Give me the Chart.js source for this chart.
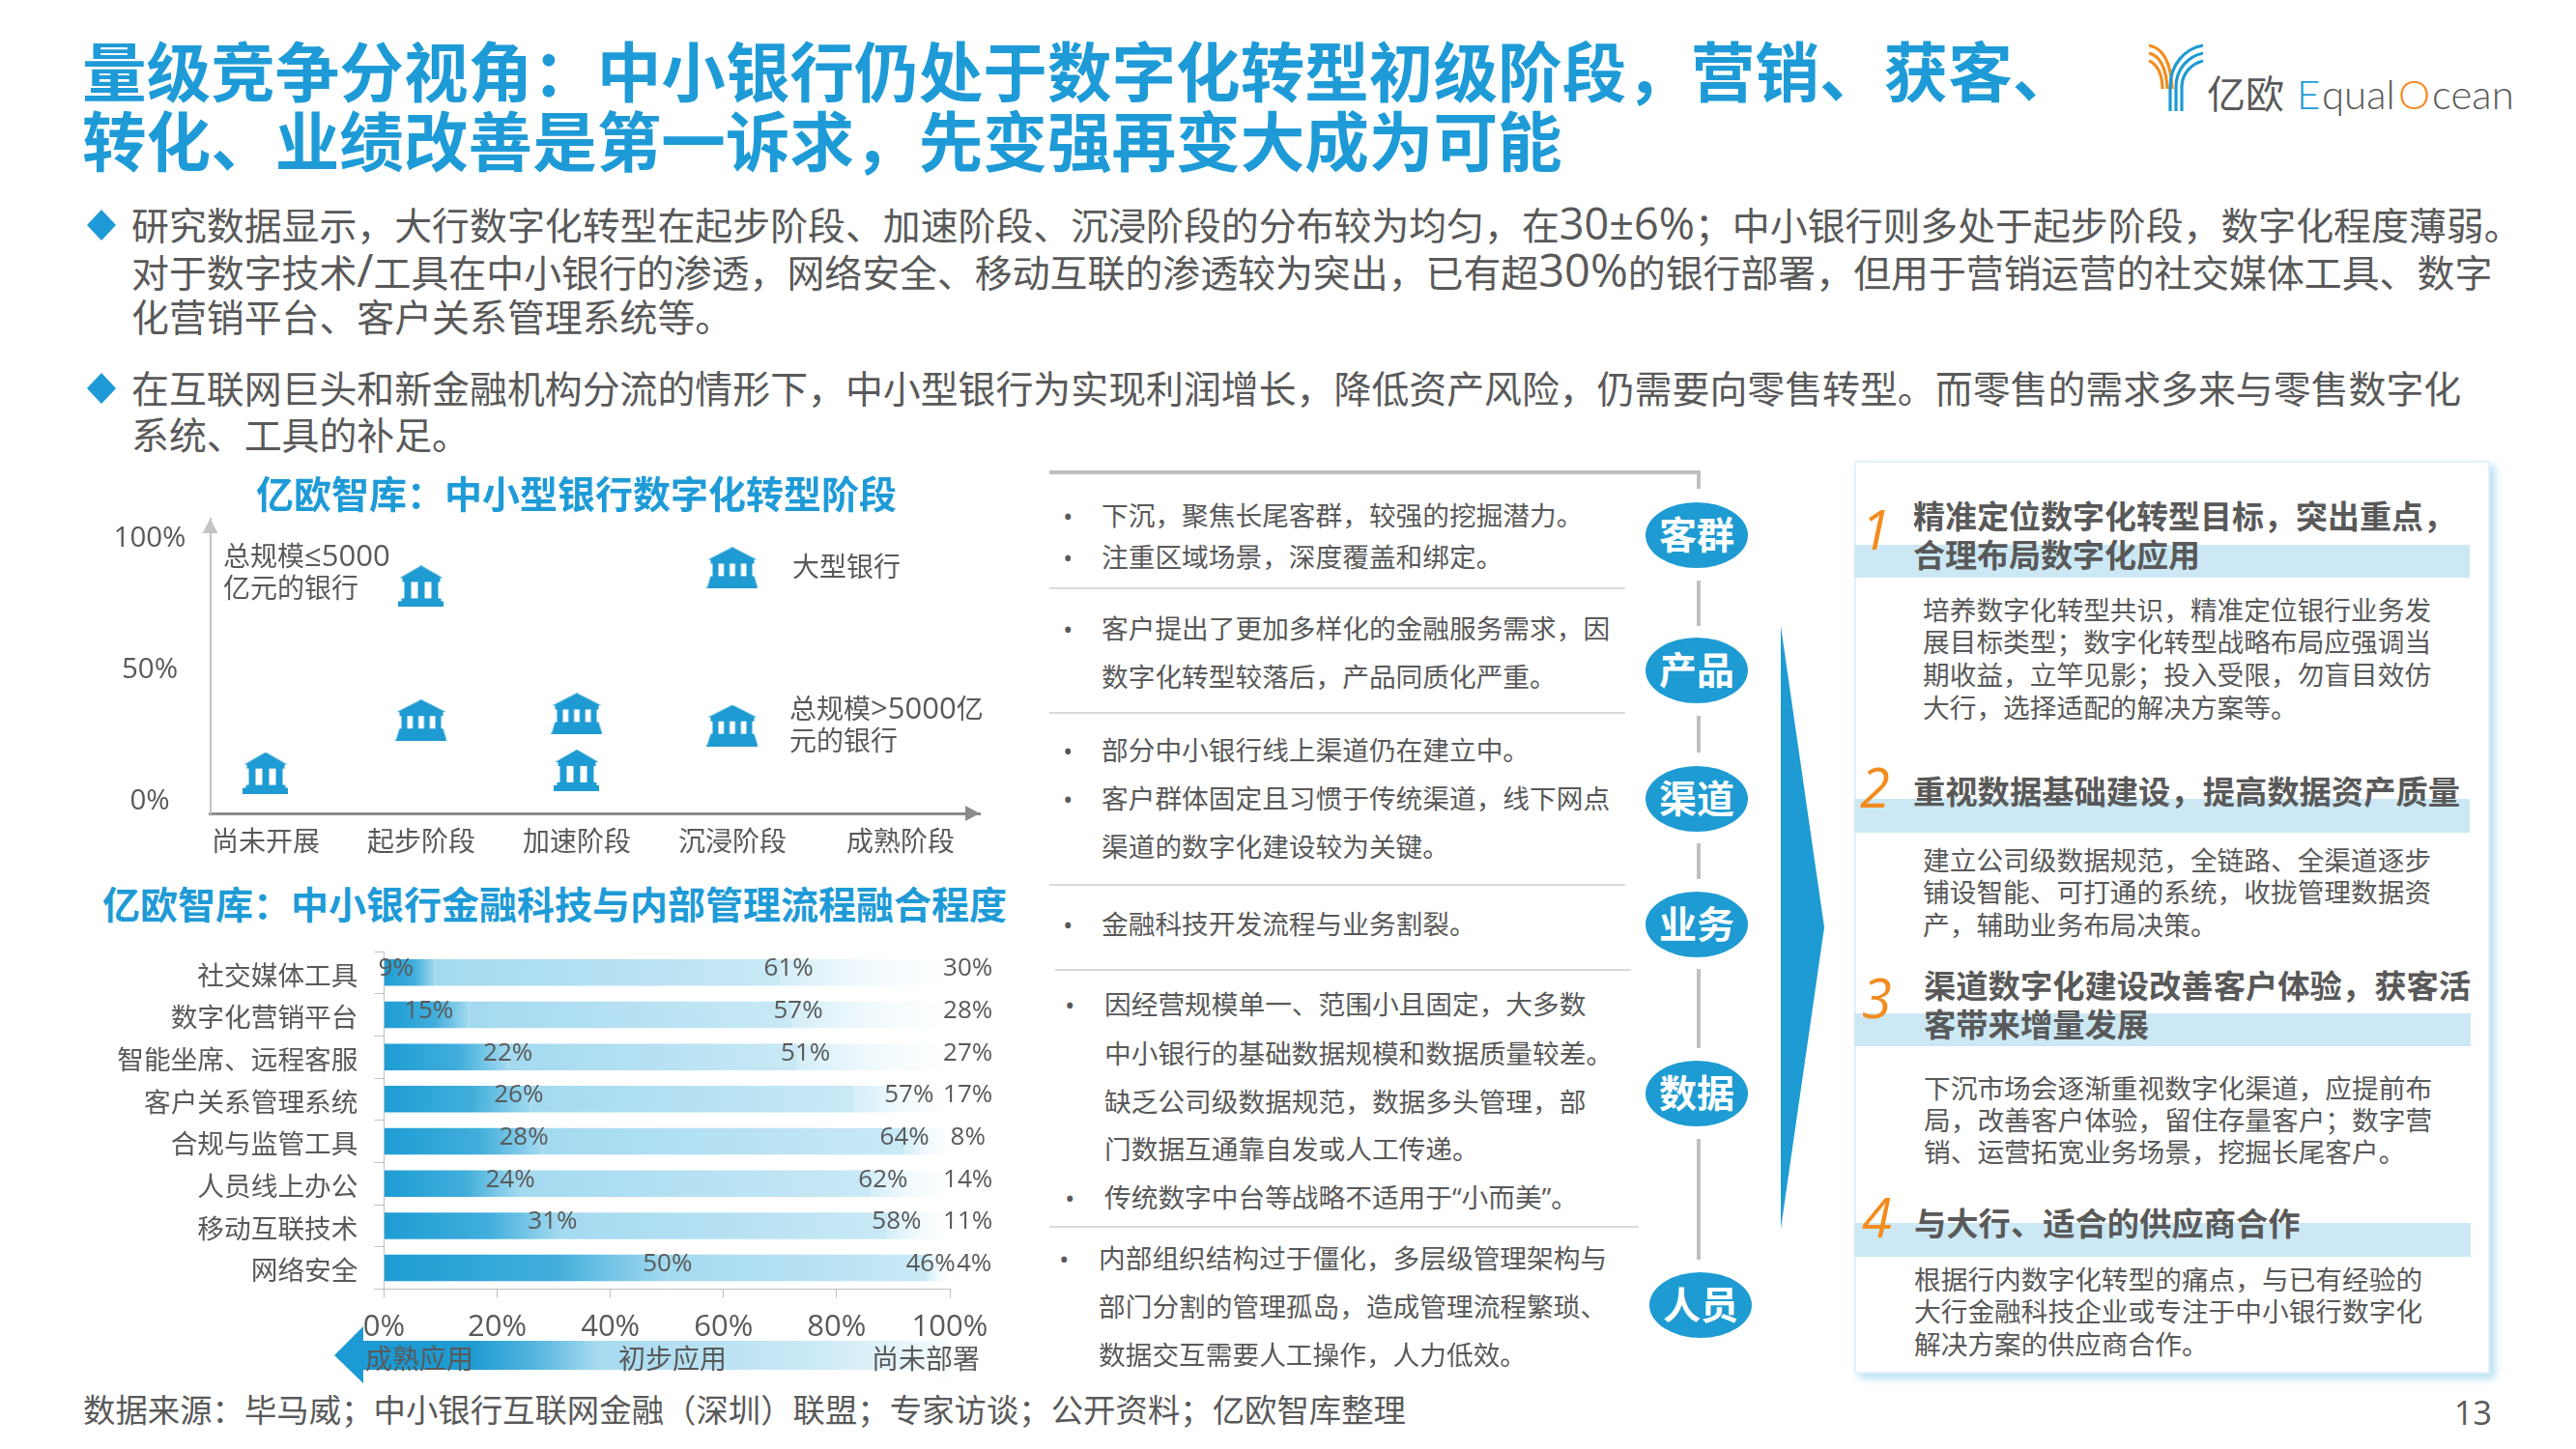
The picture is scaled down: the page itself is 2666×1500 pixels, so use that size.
<!DOCTYPE html>
<html lang="zh">
<head>
<meta charset="utf-8">
<title>量级竞争分视角</title>
<script src="https://cdn.jsdelivr.net/npm/chart.js@4"></script>
<style>
  html, body { margin: 0; padding: 0; background: #fff; }
  #slide { position: relative; width: 2666px; height: 1500px; overflow: hidden; background: #fff;
           font-family: "Open Sans", "Noto Sans CJK SC", sans-serif; color: #595959; }
  .t { position: absolute; white-space: pre; line-height: 1; transform: translateY(-50%); }
  .b { position: absolute; }
  canvas { position: absolute; }
</style>
</head>
<body>
<div id="slide">
  <svg class="b" style="left:0;top:0" width="2666" height="1500">
    <!-- logo -->
    <g fill="none" stroke-width="3.2">
      <path d="M2224 47 C2240 50 2247 66 2248 92" stroke="#f28c1e"/>
      <path d="M2224 55 C2236 58 2242 70 2243 92" stroke="#f28c1e"/>
      <path d="M2224 63 C2232 66 2238 76 2238 92" stroke="#f28c1e"/>
      <path d="M2246 115 V90 C2246 66 2262 50 2280 47" stroke="#1e9bd2"/>
      <path d="M2252 115 V90 C2252 70 2266 58 2280 55" stroke="#1e9bd2"/>
      <path d="M2258 115 V90 C2258 76 2268 66 2280 63" stroke="#1e9bd2"/>
    </g>
    <!-- bullets -->
    <polygon points="105,217 120,233 105,249 90,233" fill="#1e9bd7"/>
    <polygon points="105,386 120,402 105,418 90,402" fill="#1e9bd7"/>
    <!-- connector lines -->
    <g stroke="#bfbfbf" stroke-width="4" fill="none">
      <path d="M1086 489 H1758 V506"/>
      <path d="M1758 601 V648"/><path d="M1758 741 V779"/><path d="M1758 873 V910"/>
      <path d="M1758 1003 V1085"/><path d="M1758 1179 V1304"/>
    </g>
    <g stroke="#d9d9d9" stroke-width="2">
      <path d="M1086 609 H1682"/><path d="M1086 738 H1682"/><path d="M1086 916 H1682"/>
      <path d="M1092 1004 H1688"/><path d="M1086 1270 H1696"/>
    </g>
    <polygon points="1843,648 1888,960 1843,1272" fill="#1e9bd2"/>
    <!-- arrow under the bars -->
    <defs>
      <linearGradient id="arrowFill" x1="346" x2="992" y1="0" y2="0" gradientUnits="userSpaceOnUse">
        <stop offset="0" stop-color="#1b9ad4"/>
        <stop offset="0.22" stop-color="#1e9bd2"/>
        <stop offset="0.33" stop-color="#5ab8e0"/>
        <stop offset="0.42" stop-color="#a6dbf0"/>
        <stop offset="0.75" stop-color="#c8e8f5"/>
        <stop offset="0.95" stop-color="#eef8fc"/>
        <stop offset="1" stop-color="#ffffff"/>
      </linearGradient>
    </defs>
    <polygon points="346,1403 376,1373 376,1388 976,1388 976,1380 992,1403 976,1432 976,1418 376,1418 376,1432" fill="url(#arrowFill)"/>
  </svg>
  <div class="b" style="left:1919px;top:477px;width:658px;height:945px;box-sizing:border-box;border:2px solid #e3f2fa;box-shadow:5px 5px 8px rgba(30,155,215,.32)"></div>
  <div class="b" style="left:1919px;top:564px;width:637px;height:34px;background:#cce8f4"></div>
  <div class="b" style="left:1919px;top:827px;width:637px;height:35px;background:#cce8f4"></div>
  <div class="b" style="left:1919px;top:1049px;width:638px;height:34px;background:#cce8f4"></div>
  <div class="b" style="left:1919px;top:1266px;width:638px;height:35px;background:#cce8f4"></div>
  <canvas id="stageChart" width="930" height="370" style="left:100px;top:530px"></canvas>
  <canvas id="fusionChart" width="960" height="420" style="left:90px;top:975px"></canvas>
</div>
<script>
const BLUE = "#1e9bd7";
const GREY = "#595959";
const FONT = '"Open Sans", "Noto Sans CJK SC", sans-serif';

// x, y centre, size, text, options
const texts = [
  [85, 75, 66.6, "量级竞争分视角：中小银行仍处于数字化转型初级阶段，营销、获客、", { color: BLUE, bold: 1 }],
  [85, 147, 66.6, "转化、业绩改善是第一诉求，先变强再变大成为可能", { color: BLUE, bold: 1 }],
  [2284, 97, 40, "亿欧", { color: GREY }],
  [2377, 97, 42, "E", { color: BLUE, font: "Lato", light: 1 }],
  [2403, 97, 42, "qual", { color: GREY, font: "Lato", light: 1 }],
  [2482, 97, 42, "O", { color: "#f28c1e", font: "Lato", light: 1 }],
  [2517, 97, 42, "cean", { color: GREY, font: "Lato", light: 1 }],
  [136, 233, 38.9, "研究数据显示，大行数字化转型在起步阶段、加速阶段、沉浸阶段的分布较为均匀，在30±6%；中小银行则多处于起步阶段，数字化程度薄弱。", { latin: 45 }],
  [136, 282, 38.9, "对于数字技术/工具在中小银行的渗透，网络安全、移动互联的渗透较为突出，已有超30%的银行部署，但用于营销运营的社交媒体工具、数字", { latin: 47 }],
  [136, 328, 38.9, "化营销平台、客户关系管理系统等。"],
  [136, 402, 38.9, "在互联网巨头和新金融机构分流的情形下，中小型银行为实现利润增长，降低资产风险，仍需要向零售转型。而零售的需求多来与零售数字化"],
  [136, 450, 38.9, "系统、工具的补足。"],
  [265, 510, 39, "亿欧智库：中小型银行数字化转型阶段", { color: BLUE, bold: 1 }],
  [106, 935, 39, "亿欧智库：中小银行金融科技与内部管理流程融合程度", { color: BLUE, bold: 1 }],
  [231, 575, 28, "总规模≤5000", { latin: 31 }],
  [231, 608, 28, "亿元的银行"],
  [820, 586, 28, "大型银行"],
  [817, 733, 28, "总规模>5000亿", { latin: 31 }],
  [817, 766, 28, "元的银行"],
  [378, 1406, 28, "成熟应用"],
  [640, 1406, 28, "初步应用"],
  [902, 1406, 28, "尚未部署"],
  [86, 1460, 33.4, "数据来源：毕马威；中小银行互联网金融（深圳）联盟；专家访谈；公开资料；亿欧智库整理"],
  [2540, 1462, 34, "13"],
  [1140, 534, 27.7, "下沉，聚焦长尾客群，较强的挖掘潜力。"],
  [1140, 577, 27.7, "注重区域场景，深度覆盖和绑定。"],
  [1140, 651, 27.7, "客户提出了更加多样化的金融服务需求，因"],
  [1140, 701, 27.7, "数字化转型较落后，产品同质化严重。"],
  [1140, 777, 27.7, "部分中小银行线上渠道仍在建立中。"],
  [1140, 827, 27.7, "客户群体固定且习惯于传统渠道，线下网点"],
  [1140, 877, 27.7, "渠道的数字化建设较为关键。"],
  [1140, 957, 27.7, "金融科技开发流程与业务割裂。"],
  [1143, 1040, 27.7, "因经营规模单一、范围小且固定，大多数"],
  [1143, 1091, 27.7, "中小银行的基础数据规模和数据质量较差。"],
  [1143, 1141, 27.7, "缺乏公司级数据规范，数据多头管理，部"],
  [1143, 1190, 27.7, "门数据互通靠自发或人工传递。"],
  [1143, 1240, 27.7, "传统数字中台等战略不适用于“小而美”。"],
  [1137, 1303, 27.7, "内部组织结构过于僵化，多层级管理架构与"],
  [1137, 1353, 27.7, "部门分割的管理孤岛，造成管理流程繁琐、"],
  [1137, 1403, 27.7, "数据交互需要人工操作，人力低效。"],
  [1980, 534, 33, "精准定位数字化转型目标，突出重点，", { bold: 1 }],
  [1980, 574, 33, "合理布局数字化应用", { bold: 1 }],
  [1980, 820, 33.3, "重视数据基础建设，提高数据资产质量", { bold: 1 }],
  [1991, 1021, 33.3, "渠道数字化建设改善客户体验，获客活", { bold: 1 }],
  [1991, 1061, 33.3, "客带来增量发展", { bold: 1 }],
  [1981, 1267, 33.3, "与大行、适合的供应商合作", { bold: 1 }],
  [1990, 632, 27.7, "培养数字化转型共识，精准定位银行业务发"],
  [1990, 665, 27.7, "展目标类型；数字化转型战略布局应强调当"],
  [1990, 699, 27.7, "期收益，立竿见影；投入受限，勿盲目效仿"],
  [1990, 733, 27.7, "大行，选择适配的解决方案等。"],
  [1990, 891, 27.7, "建立公司级数据规范，全链路、全渠道逐步"],
  [1990, 924, 27.7, "铺设智能、可打通的系统，收拢管理数据资"],
  [1990, 958, 27.7, "产，辅助业务布局决策。"],
  [1991, 1127, 27.7, "下沉市场会逐渐重视数字化渠道，应提前布"],
  [1991, 1160, 27.7, "局，改善客户体验，留住存量客户；数字营"],
  [1991, 1193, 27.7, "销、运营拓宽业务场景，挖掘长尾客户。"],
  [1981, 1325, 27.7, "根据行内数字化转型的痛点，与已有经验的"],
  [1981, 1358, 27.7, "大行金融科技企业或专注于中小银行数字化"],
  [1981, 1392, 27.7, "解决方案的供应商合作。"],
  [1926, 547, 56, "1", { color: "#f28c1e", italic: 1 }],
  [1925, 814, 56, "2", { color: "#f28c1e", italic: 1 }],
  [1927, 1032, 56, "3", { color: "#f28c1e", italic: 1 }],
  [1927, 1259, 56, "4", { color: "#f28c1e", italic: 1 }],
];
[[1107, 534], [1107, 577], [1107, 651], [1107, 777], [1107, 827], [1107, 957],
 [1109, 1040], [1109, 1240], [1103, 1303]].forEach(p => texts.push([p[0] - 7, p[1], 28, "•"]));

const slide = document.getElementById("slide");
texts.forEach(([x, y, size, str, o = {}]) => {
  const d = document.createElement("div");
  d.className = "t";
  // latin runs are set larger than the chinese around them
  if (o.latin) d.innerHTML = str.replace(/[0-9±%\/≤>]+/g, (m) => `<span style="font-size:${o.latin}px;line-height:0">${m}</span>`);
  else d.textContent = str;
  d.style.left = x + "px";
  d.style.top = y + "px";
  d.style.fontSize = size + "px";
  d.style.color = o.color || GREY;
  if (o.bold) d.style.fontWeight = 700;
  if (o.light) d.style.fontWeight = 300;
  if (o.italic) d.style.fontStyle = "italic";
  if (o.font) d.style.fontFamily = o.font;
  slide.appendChild(d);
});

// round tags on the connector
[["客群", 1756, 554], ["产品", 1756, 694], ["渠道", 1756, 827], ["业务", 1756, 957], ["数据", 1756, 1132], ["人员", 1760, 1351]].forEach(([s, x, y]) => {
  const d = document.createElement("div");
  d.className = "b";
  d.textContent = s;
  d.style.cssText = `left:${x - 53}px;top:${y - 34}px;width:106px;height:68px;border-radius:50%;background:#1e9bd2;color:#fff;font-weight:700;font-size:39px;line-height:66px;text-align:center`;
  slide.appendChild(d);
});

// bank icons used as point styles
function bankIcon(w, h, wideBase) {
  const c = document.createElement("canvas");
  c.width = w; c.height = h;
  const g = c.getContext("2d");
  g.fillStyle = "#1e9bd2";
  const roof = Math.round(h * 0.3);
  g.beginPath();
  g.moveTo(w / 2, 0); g.lineTo(w - 1, roof); g.lineTo(1, roof); g.closePath(); g.fill();
  g.fillRect(4, roof, w - 8, 4);
  const colTop = roof + 4, colBot = h - (wideBase ? 13 : 8);
  const n = wideBase ? 4 : 3, cw = wideBase ? 6 : 7;
  const left = 6, span = w - 12 - cw;
  for (let i = 0; i < n; i++) g.fillRect(left + span * i / (n - 1), colTop, cw, colBot - colTop);
  if (wideBase) {
    g.beginPath();
    g.moveTo(4, colBot); g.lineTo(w - 4, colBot); g.lineTo(w, h); g.lineTo(0, h); g.closePath(); g.fill();
  } else {
    g.fillRect(3, colBot - 1, w - 6, 3);
    g.fillRect(0, h - 6, w, 6);
  }
  return c;
}
const smallBank = bankIcon(47, 43, false);
const bigBank = bankIcon(53, 43, true);

const stages = ["尚未开展", "起步阶段", "加速阶段", "沉浸阶段", "成熟阶段"];
const stageTicks = [0, 1, 2, 3, 4.08];

const axisArrows = {
  id: "axisArrows",
  afterDraw(chart) {
    const { ctx, chartArea: a } = chart;
    ctx.save();
    ctx.fillStyle = "#c4c4c4";
    ctx.beginPath();
    ctx.moveTo(a.left, a.top); ctx.lineTo(a.left + 8, a.top + 15); ctx.lineTo(a.left - 8, a.top + 15);
    ctx.closePath(); ctx.fill();
    ctx.fillStyle = "#8c8c8c";
    ctx.beginPath();
    ctx.moveTo(a.right, a.bottom); ctx.lineTo(a.right - 15, a.bottom - 8); ctx.lineTo(a.right - 15, a.bottom + 8);
    ctx.closePath(); ctx.fill();
    ctx.restore();
  },
};

// fixed axis box, no extra room for the tick labels
function noPadding(axis) {
  axis.paddingTop = axis.paddingBottom = axis.paddingLeft = axis.paddingRight = 0;
}

new Chart(document.getElementById("stageChart"), {
  type: "scatter",
  plugins: [axisArrows],
  data: {
    datasets: [
      { label: "总规模≤5000亿元的银行", data: [{ x: 0, y: 11 }, { x: 1, y: 82 }, { x: 2, y: 12 }], pointStyle: smallBank },
      { label: "总规模>5000亿元的银行", data: [{ x: 1, y: 31 }, { x: 2, y: 33.5 }, { x: 3, y: 29 }], pointStyle: bigBank },
      { label: "大型银行", data: [{ x: 3, y: 89 }], pointStyle: bigBank },
    ],
  },
  options: {
    responsive: false,
    animation: false,
    devicePixelRatio: 1,
    layout: { padding: { top: 7, right: 16, left: 0, bottom: 0 } },
    plugins: { legend: { display: false }, title: { display: false }, tooltip: { enabled: false } },
    scales: {
      x: {
        type: "linear",
        min: -0.357,
        max: 4.59,
        afterBuildTicks: (axis) => { axis.ticks = stageTicks.map((v) => ({ value: v })); },
        afterFit: (axis) => { axis.height = 58; noPadding(axis); },
        grid: { display: false },
        border: { color: "#8c8c8c", width: 3 },
        ticks: {
          autoSkip: false,
          maxRotation: 0,
          padding: 6,
          color: GREY,
          font: { family: FONT, size: 28 },
          callback: (v) => stages[stageTicks.indexOf(v)],
        },
      },
      y: {
        type: "linear",
        min: -4.4,
        max: 107.7,
        afterBuildTicks: (axis) => { axis.ticks = [0, 50, 100].map((v) => ({ value: v })); },
        afterFit: (axis) => { axis.width = 117.5; noPadding(axis); },
        grid: { display: false },
        border: { color: "#c4c4c4", width: 2 },
        ticks: {
          padding: 17,
          crossAlign: "center",
          color: GREY,
          font: { family: FONT, size: 29.5 },
          callback: (v) => v + "%",
        },
      },
    },
  },
});

const tools = ["社交媒体工具", "数字化营销平台", "智能坐席、远程客服", "客户关系管理系统", "合规与监管工具", "人员线上办公", "移动互联技术", "网络安全"];
const matureUse = [9, 15, 22, 26, 28, 24, 31, 50];
const earlyUse = [61, 57, 51, 57, 64, 62, 58, 46];
const notDeployed = [30, 28, 27, 17, 8, 14, 11, 4];
// where each percentage sits on the x axis (hand placed in the original)
const labelAt = [
  [2.1, 7.9, 21.9, 23.8, 24.7, 22.3, 29.8, 50.1],
  [71.5, 73.2, 74.5, 92.8, 92, 88.2, 90.6, 96.6],
  [103.2, 103.2, 103.2, 103.2, 103.2, 103.2, 103.2, 104.3],
];
const stops = [
  ["#1d9dd4", "#41aedb", "#a3daf0"],
  ["#a3daf0", "#b6e1f3", "#c9e9f6"],
  ["#d4eef8", "#f2fafd", "#ffffff"],
];

function segFill(seg) {
  return (c) => {
    const chart = c.chart, xs = chart.scales.x;
    const i = c.dataIndex;
    if (!xs || i === undefined) return stops[seg][0];
    const from = seg === 0 ? 0 : seg === 1 ? matureUse[i] : matureUse[i] + earlyUse[i];
    const to = from + c.dataset.data[i];
    const x0 = xs.getPixelForValue(from), x1 = xs.getPixelForValue(to);
    if (!isFinite(x0) || !isFinite(x1)) return stops[seg][0];
    const g = chart.ctx.createLinearGradient(x0, 0, x1, 0);
    g.addColorStop(0, stops[seg][0]);
    g.addColorStop(seg === 0 ? 0.6 : 0.5, stops[seg][1]);
    g.addColorStop(1, stops[seg][2]);
    return g;
  };
}

const percentLabels = {
  id: "percentLabels",
  afterDatasetsDraw(chart) {
    const { ctx, scales } = chart;
    ctx.save();
    ctx.font = "26px " + FONT;
    ctx.fillStyle = GREY;
    ctx.textAlign = "center";
    ctx.textBaseline = "middle";
    chart.data.datasets.forEach((ds, s) => {
      ds.data.forEach((v, i) => {
        ctx.fillText(v + "%", scales.x.getPixelForValue(labelAt[s][i]), scales.y.getPixelForValue(i) - 4);
      });
    });
    ctx.restore();
  },
};

new Chart(document.getElementById("fusionChart"), {
  type: "bar",
  plugins: [percentLabels],
  data: {
    labels: tools,
    datasets: [
      { label: "成熟应用", data: matureUse, backgroundColor: segFill(0) },
      { label: "初步应用", data: earlyUse, backgroundColor: segFill(1) },
      { label: "尚未部署", data: notDeployed, backgroundColor: segFill(2) },
    ],
  },
  options: {
    indexAxis: "y",
    responsive: false,
    animation: false,
    devicePixelRatio: 1,
    layout: { padding: { top: 10, right: 67, left: 0, bottom: 0 } },
    datasets: { bar: { categoryPercentage: 0.63, barPercentage: 1 } },
    plugins: { legend: { display: false }, title: { display: false }, tooltip: { enabled: false } },
    scales: {
      x: {
        stacked: true,
        min: 0,
        max: 100,
        afterFit: (axis) => { axis.height = 60.6; noPadding(axis); },
        grid: { drawOnChartArea: false, tickLength: 9, color: "#bfbfbf" },
        border: { color: "#bfbfbf" },
        ticks: {
          stepSize: 20,
          padding: 12,
          maxRotation: 0,
          color: GREY,
          font: { family: FONT, size: 31 },
          callback: (v) => v + "%",
        },
      },
      y: {
        stacked: true,
        afterFit: (axis) => { axis.width = 307.5; noPadding(axis); },
        grid: { drawOnChartArea: false, tickLength: 10, color: "#bfbfbf" },
        border: { color: "#bfbfbf" },
        ticks: {
          autoSkip: false,
          padding: 17,
          labelOffset: 5,
          color: GREY,
          font: { family: FONT, size: 27.7 },
        },
      },
    },
  },
});
</script>
</body>
</html>
